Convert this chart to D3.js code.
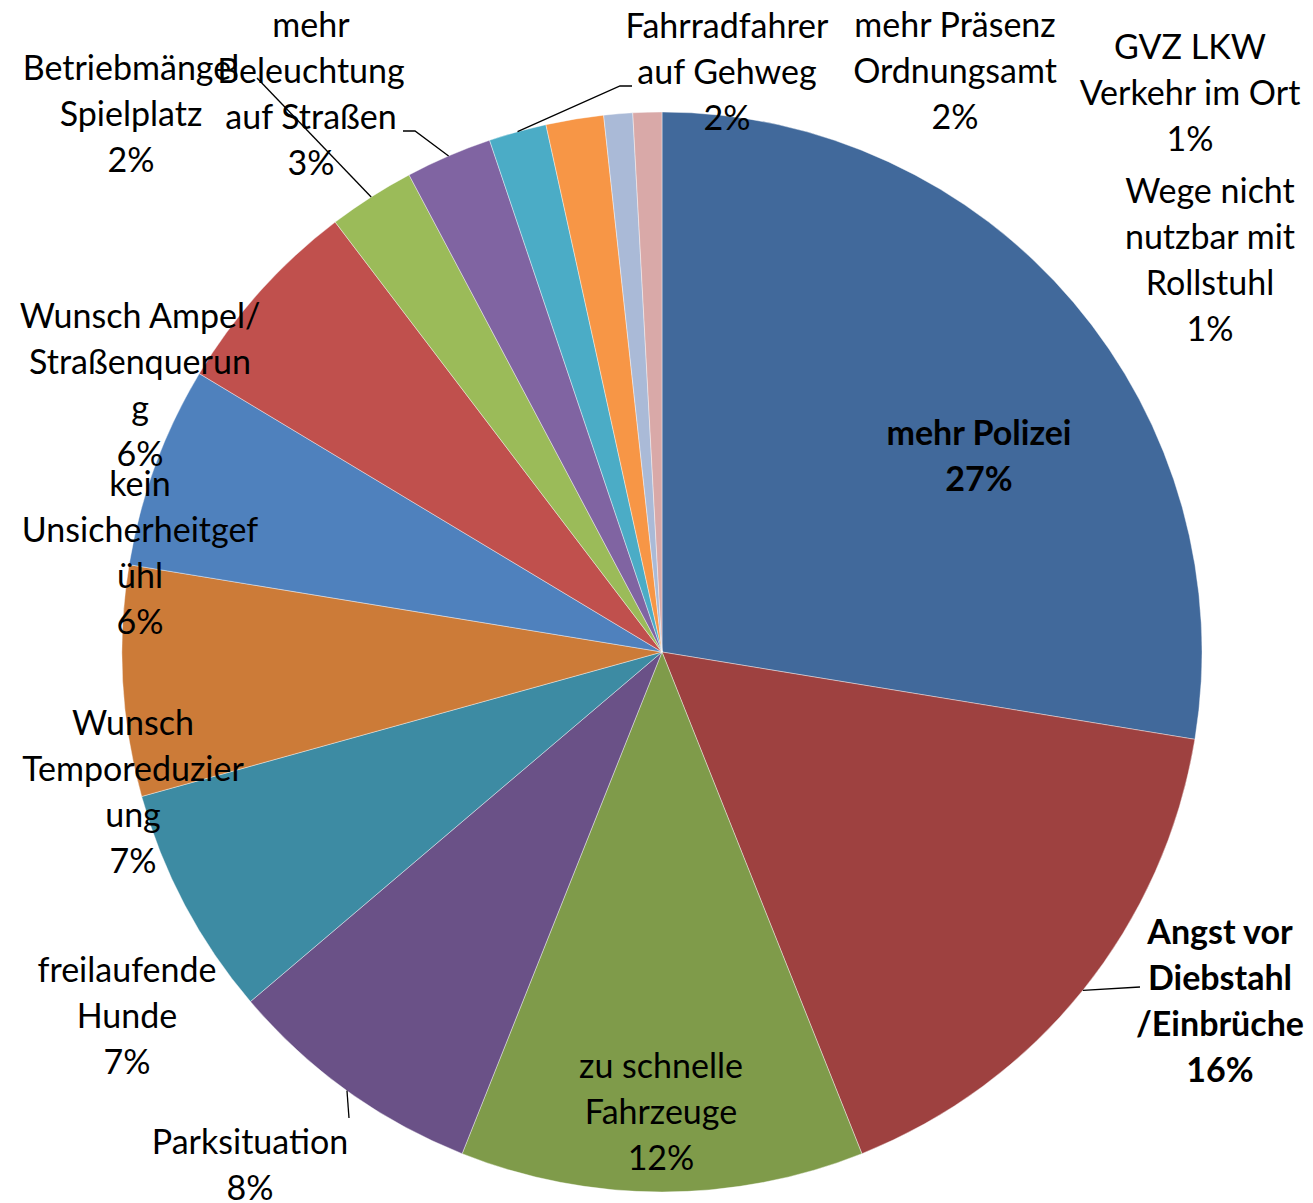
<!DOCTYPE html>
<html>
<head>
<meta charset="utf-8">
<script src="https://cdn.jsdelivr.net/npm/d3@7"></script>
<style>
  html, body { margin: 0; padding: 0; background: #fff; }
  text { font-family: Lato, "Open Sans", sans-serif; fill: #000; }
</style>
</head>
<body>
<svg id="chart" width="1313" height="1203"></svg>
<script>
// categories, clockwise from 12 o'clock (line breaks as in the original labels)
const categories = [
  ['mehr Polizei'],
  ['Angst vor', 'Diebstahl', '/Einbrüche'],
  ['zu schnelle', 'Fahrzeuge'],
  ['Parksituation'],
  ['freilaufende', 'Hunde'],
  ['Wunsch', 'Temporeduzier', 'ung'],
  ['kein', 'Unsicherheitgef', 'ühl'],
  ['Wunsch Ampel/', 'Straßenquerun', 'g'],
  ['Betriebmängel', 'Spielplatz'],
  ['mehr', 'Beleuchtung', 'auf Straßen'],
  ['Fahrradfahrer', 'auf Gehweg'],
  ['mehr Präsenz', 'Ordnungsamt'],
  ['GVZ LKW', 'Verkehr im Ort'],
  ['Wege nicht', 'nutzbar mit', 'Rollstuhl']
];
// counts
const counts = [32, 19, 14, 9, 8, 8, 7, 7, 3, 3, 2, 2, 1, 1];
// percentages shown on the labels
const pctLabels = ['27%', '16%', '12%', '8%', '7%', '7%', '6%', '6%', '2%', '3%', '2%', '2%', '1%', '1%'];
const boldLabels = [true, true, false, false, false, false, false, false, false, false, false, false, false, false];

const colors = ['#41699b', '#9e4140', '#7f9b4a', '#6a5187', '#3d8ba3', '#cc7b38', '#4f81bd',
                '#c0504d', '#9bbb59', '#8064a2', '#4bacc6', '#f79646', '#aabad7', '#d9a9a8'];

// label placement (x centre, first baseline) and leader-line start points
const labelPos = [
  [979, 445], [1220, 944], [661, 1078], [250, 1154], [127, 982], [133, 735], [140, 496],
  [140, 328], [131, 80], [311, 37], [727, 38], [955, 37], [1190, 59], [1210, 203]
];
const leaders = {
  1: [[1140, 987]],
  3: [[349, 1118]],
  8: [[257, 78]],
  9: [[403, 131], [415, 131]],
  10: [[632, 86], [620, 86]]
};

const cx = 662, cy = 652, radius = 540;
const fontSize = 34, lineH = 46;

const svg = d3.select('#chart');
const g = svg.append('g').attr('transform', `translate(${cx},${cy})`);

const pie = d3.pie().sort(null).value(d => d);
const arcs = pie(counts);
const arc = d3.arc().innerRadius(0).outerRadius(radius);

g.selectAll('path.slice')
  .data(arcs)
  .join('path')
  .attr('class', 'slice')
  .attr('d', arc)
  .attr('fill', (d, i) => colors[i])
  .attr('stroke', '#ffffff')
  .attr('stroke-opacity', 0.5)
  .attr('stroke-width', 0.8);

// leader lines
const line = d3.line();
Object.keys(leaders).forEach((k) => {
  const a = arcs[+k];
  const mid = (a.startAngle + a.endAngle) / 2;
  const end = [cx + radius * Math.sin(mid), cy - radius * Math.cos(mid)];
  svg.append('path')
    .attr('d', line(leaders[k].concat([end])))
    .attr('fill', 'none')
    .attr('stroke', '#000')
    .attr('stroke-width', 1.3);
});

// labels
categories.forEach((lines, i) => {
  const [x, y] = labelPos[i];
  const t = svg.append('text')
    .attr('text-anchor', 'middle')
    .attr('font-size', fontSize)
    .attr('font-weight', boldLabels[i] ? 'bold' : 'normal');
  lines.concat([pctLabels[i]]).forEach((s, j) => {
    t.append('tspan').attr('x', x).attr('y', y + j * lineH).text(s);
  });
});
</script>
</body>
</html>
